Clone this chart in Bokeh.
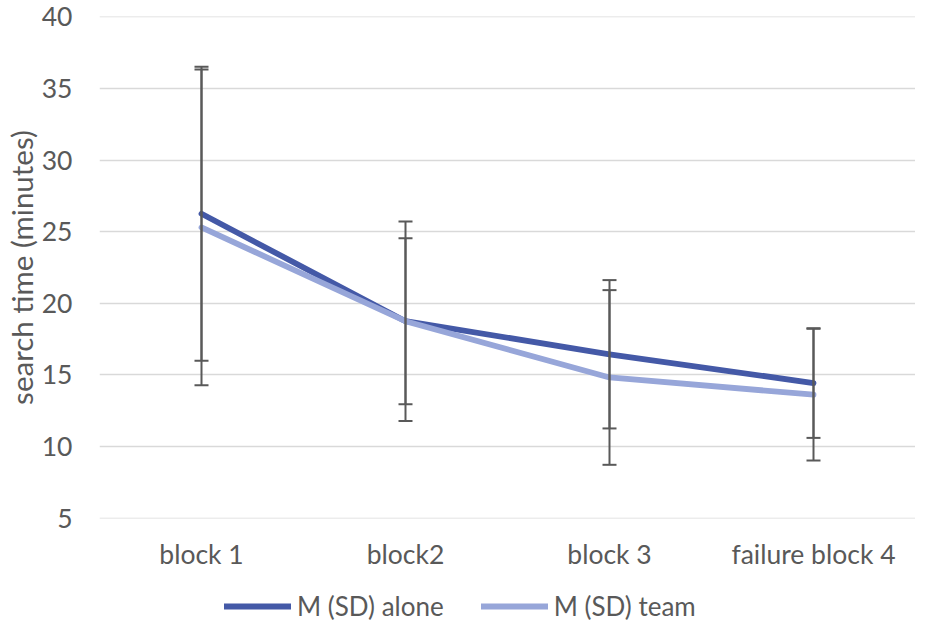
from bokeh.plotting import figure
from bokeh.layouts import column
from bokeh.models import ColumnDataSource, Whisker, Legend, LegendItem, FactorRange, Range1d, TeeHead
from bokeh.embed import file_html
from bokeh.resources import INLINE

categories = ["block 1", "block2", "block 3", "failure block 4"]
alone_mean = [26.25, 18.75, 16.44, 14.43]
alone_sd = [10.27, 6.97, 5.18, 3.83]
team_mean = [25.3, 18.75, 14.82, 13.62]
team_sd = [11.03, 5.8, 6.1, 4.6]
y_ticks = [5, 10, 15, 20, 25, 30, 35, 40]
series_labels = ["M (SD) alone", "M (SD) team"]

FONT = "Lato"
GREY = "#595959"
DARK = "#4459A7"
LIGHT = "#97A6D9"
LW = 5.8

src_a = ColumnDataSource(dict(x=categories, y=alone_mean,
                              up=[m + s for m, s in zip(alone_mean, alone_sd)],
                              lo=[m - s for m, s in zip(alone_mean, alone_sd)]))
src_t = ColumnDataSource(dict(x=categories, y=team_mean,
                              up=[m + s for m, s in zip(team_mean, team_sd)],
                              lo=[m - s for m, s in zip(team_mean, team_sd)]))

p = figure(width=915, height=574, x_range=FactorRange(*categories, range_padding=0),
           y_range=Range1d(4.97, 40.03), output_backend="svg", toolbar_location=None,
           min_border_left=88, min_border_right=0, min_border_top=16, min_border_bottom=56)
p.outline_line_color = None
p.background_fill_color = "white"
p.border_fill_color = "white"

p.xgrid.visible = False
p.ygrid.grid_line_color = "#D9D9D9"
p.ygrid.grid_line_width = 1.5
p.yaxis.ticker = y_ticks

for ax in (p.xaxis[0], p.yaxis[0]):
    ax.axis_line_color = None
    ax.major_tick_line_color = None
    ax.minor_tick_line_color = None
    ax.major_tick_out = 0
    ax.major_tick_in = 0
    ax.major_label_text_font = FONT
    ax.major_label_text_font_size = "26.5px"
    ax.major_label_text_color = GREY

p.yaxis.major_label_standoff = 27
p.xaxis.major_label_standoff = 19
p.yaxis.axis_label = "search time (minutes)"
p.yaxis.axis_label_text_font = FONT
p.yaxis.axis_label_text_font_size = "29.5px"
p.yaxis.axis_label_text_font_style = "normal"
p.yaxis.axis_label_text_color = GREY
p.yaxis.axis_label_standoff = 0

p.line("x", "y", source=src_a, line_color=DARK, line_width=LW,
       line_join="round", line_cap="round")
p.line("x", "y", source=src_t, line_color=LIGHT, line_width=LW,
       line_join="round", line_cap="round")

for src in (src_a, src_t):
    w = Whisker(source=src, base="x", upper="up", lower="lo", level="annotation",
                line_color=GREY, line_width=2,
                upper_head=TeeHead(size=14, line_color=GREY, line_width=2),
                lower_head=TeeHead(size=14, line_color=GREY, line_width=2))
    p.add_layout(w)

# legend strip below the chart (its lines sit outside the strip's visible y range)
p2 = figure(width=915, height=48, x_range=FactorRange(*categories), y_range=Range1d(100, 101),
            x_axis_type=None, y_axis_type=None,
            output_backend="svg", toolbar_location=None,
            min_border_left=0, min_border_right=0, min_border_top=0, min_border_bottom=0)
p2.grid.visible = False
p2.outline_line_color = None
p2.background_fill_color = "white"
p2.border_fill_color = "white"
ra = p2.line("x", "y", source=src_a, line_color=DARK, line_width=LW, line_cap="round")
rt = p2.line("x", "y", source=src_t, line_color=LIGHT, line_width=LW, line_cap="round")
legend = Legend(items=[LegendItem(label=series_labels[0], renderers=[ra]),
                       LegendItem(label=series_labels[1], renderers=[rt])],
                location=(125, 0), orientation="horizontal",
                glyph_width=67, glyph_height=10, label_height=10,
                label_standoff=6, spacing=37, padding=0, margin=0,
                border_line_color=None, background_fill_alpha=0,
                label_text_font=FONT, label_text_font_size="26px",
                label_text_line_height=1.0,
                label_text_color=GREY)
p2.add_layout(legend, "center")

open("out.html", "w").write(file_html(column(p, p2, spacing=0), INLINE))
